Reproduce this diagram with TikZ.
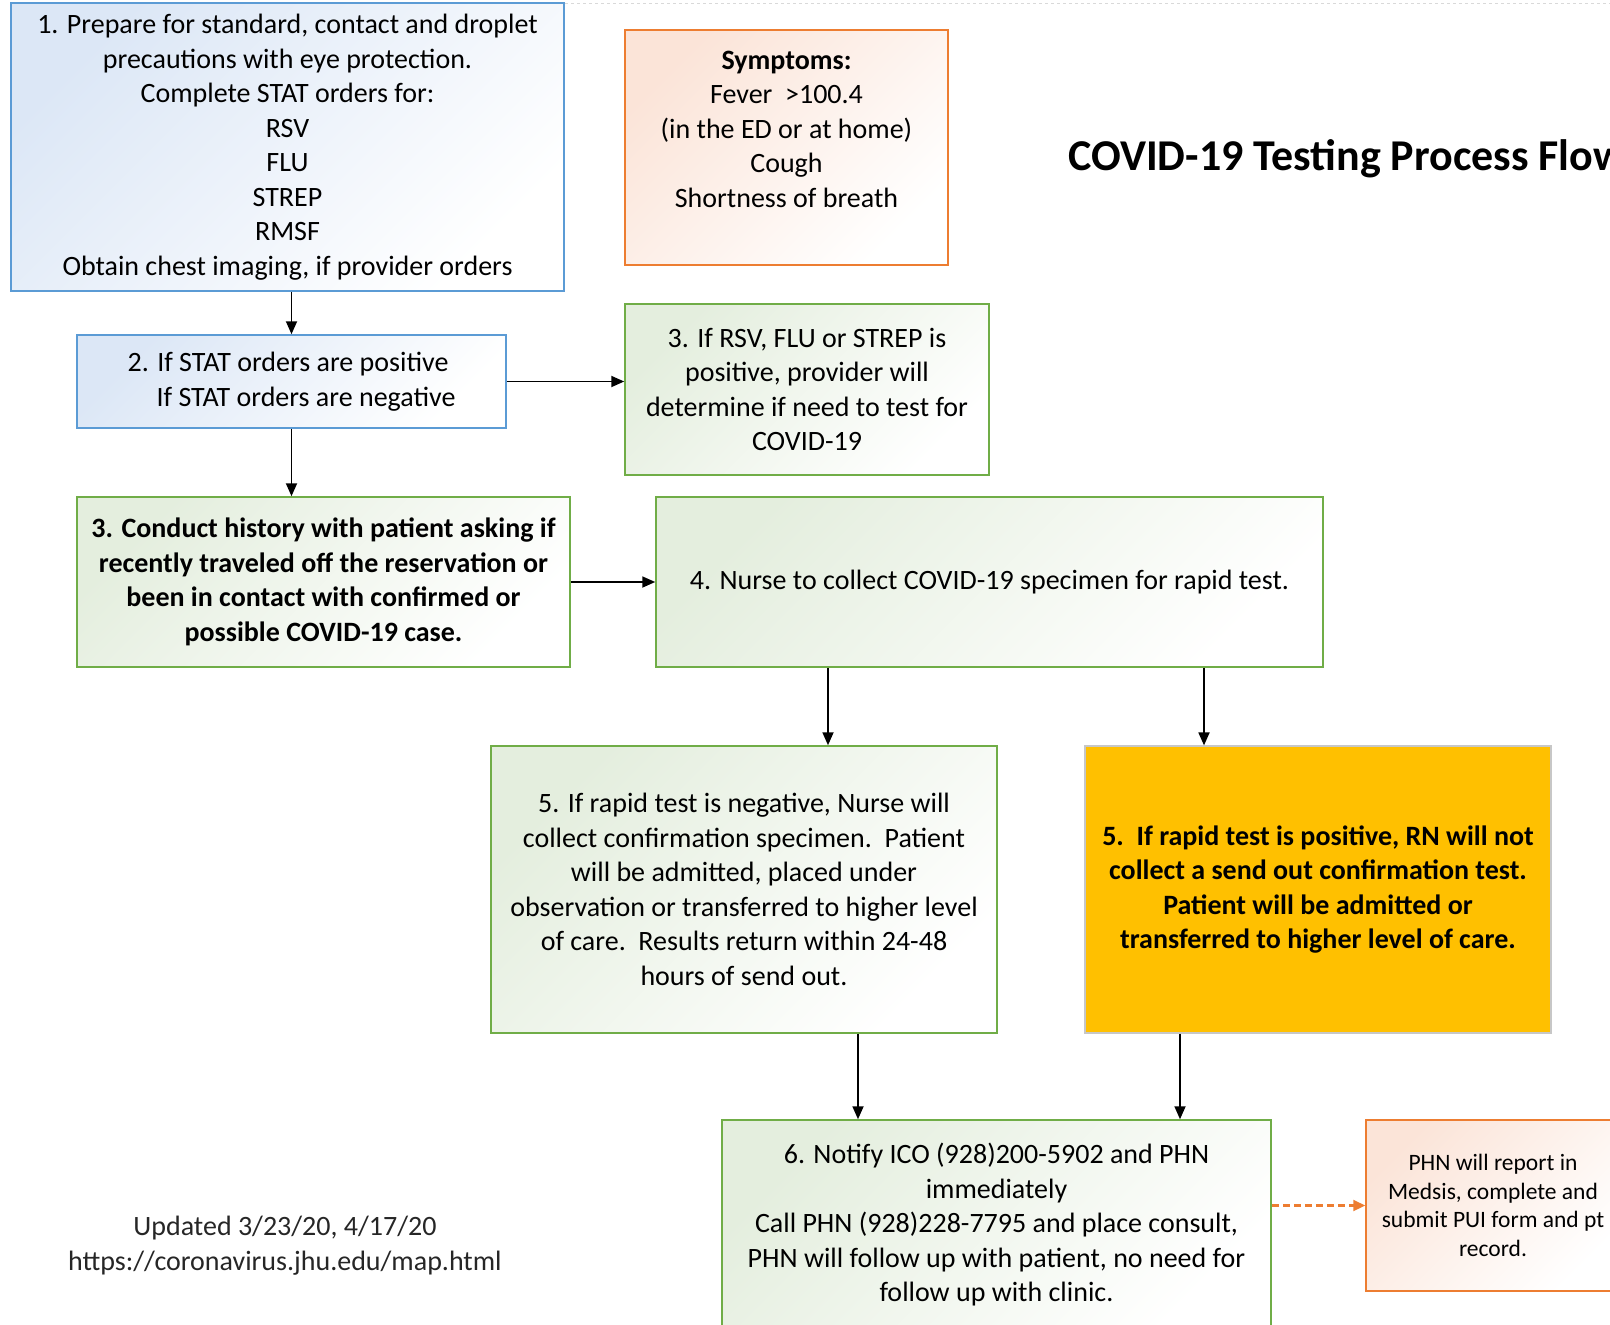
\documentclass[tikz,border=0pt]{standalone}
\usepackage{fontspec}
\setmainfont{Carlito}
\usepackage{tikz}
\usetikzlibrary{arrows.meta,positioning}
\definecolor{bluebox}{RGB}{91,155,213}
\definecolor{greenbox}{RGB}{112,173,71}
\definecolor{orangebox}{RGB}{237,125,49}
\definecolor{amber}{RGB}{255,192,0}
\definecolor{bluetint}{RGB}{220,231,246}
\definecolor{greentint}{RGB}{228,238,222}
\definecolor{orangetint}{RGB}{251,228,216}
\tikzstyle{txt}=[font=\fontsize{28}{34.5}\selectfont,align=center,inner sep=0pt]
\tikzstyle{Bbox}=[txt,shape=rectangle,draw=bluebox,line width=1.5pt,top color=bluetint,bottom color=white,shading angle=45]
\tikzstyle{Gbox}=[txt,shape=rectangle,draw=greenbox,line width=1.5pt,top color=greentint,bottom color=white,shading angle=45]
\tikzstyle{Obox}=[txt,shape=rectangle,draw=orangebox,line width=1.5pt,top color=orangetint,bottom color=white,shading angle=45]
\tikzstyle{Abox}=[txt,shape=rectangle,draw=black!22,line width=1.2pt,fill=amber,font=\fontsize{28}{34.5}\selectfont\bfseries]
\tikzstyle{flow}=[-{Triangle[length=13pt,width=11pt]},line width=1.8pt,black]
\tikzstyle{report}=[-{Triangle[length=12pt,width=11pt]},dash pattern=on 7pt off 4pt,line width=2.2pt,orangebox]

\begin{document}
\begin{tikzpicture}[x=1pt,y=-1pt]
\useasboundingbox (0,0) rectangle (1610,1325);
\clip (0,0) rectangle (1610,1325);

\draw[black!15,dashed,line width=1pt] (565,3) -- (1610,3);

\node[Bbox,minimum width=553pt,minimum height=288pt] (prep) at (287.5,147){1. Prepare for standard, contact and droplet\\ precautions with eye protection.\\ Complete STAT orders for:\\ RSV\\ FLU\\ STREP\\ RMSF\\ Obtain chest imaging, if provider orders};

\node[Obox,minimum width=323pt,minimum height=235pt] (symp) at (786.5,147.5){};
\node[txt] (symptxt) at (786.5,129){\textbf{Symptoms:}\\ Fever\ \ >100.4\\ (in the ED or at home)\\ Cough\\ Shortness of breath};

\node[txt,anchor=west,font=\fontsize{44}{52}\selectfont\bfseries] (title) at (1068,159){COVID-19 Testing Process Flow};

\node[Bbox,align=left,minimum width=429pt,minimum height=93pt] (stat) at (291.5,381.5){2. If STAT orders are positive\\ \hspace*{29pt}If STAT orders are negative};

\node[Gbox,minimum width=364pt,minimum height=171pt] (rsv) at (807,389.5){3. If RSV, FLU or STREP is\\ positive, provider will\\ determine if need to test for\\ COVID-19};

\node[Gbox,minimum width=493pt,minimum height=170pt,font=\fontsize{28}{34.5}\selectfont\bfseries] (hist) at (323.5,582){3. Conduct history with patient asking if\\ recently traveled off the reservation or\\ been in contact with confirmed or\\ possible COVID-19 case.};

\node[Gbox,minimum width=667pt,minimum height=170pt] (nurse) at (989.5,582){4. Nurse to collect COVID-19 specimen for rapid test.};

\node[Gbox,minimum width=506pt,minimum height=287pt] (neg) at (744,889.5){5. If rapid test is negative, Nurse will\\ collect confirmation specimen.\ \ Patient\\ will be admitted, placed under\\ observation or transferred to higher level\\ of care.\ \ Results return within 24-48\\ hours of send out.};

\node[Abox,minimum width=466pt,minimum height=287pt] (pos) at (1318,889.5){5.\ \ If rapid test is positive, RN will not\\ collect a send out confirmation test.\\ Patient will be admitted or\\ transferred to higher level of care.};

\node[Gbox,minimum width=549pt,minimum height=210pt] (notify) at (996.5,1225){6. Notify ICO (928)200-5902 and PHN\\ immediately\\ Call PHN (928)228-7795 and place consult,\\ PHN will follow up with patient, no need for\\ follow up with clinic.};

\node[Obox,minimum width=254pt,minimum height=171pt,font=\fontsize{23.5}{28.7}\selectfont] (phn) at (1493,1205.5){PHN will report in\\ Medsis, complete and\\ submit PUI form and pt\\ record.};

\node[txt,text=black!85] (updated) at (285,1245.5){Updated 3/23/20, 4/17/20\\ https://coronavirus.jhu.edu/map.html};

\coordinate (negin) at ([xshift=84pt]neg.north);
\coordinate (posin) at ([xshift=-114pt]pos.north);
\coordinate (negout) at ([xshift=114pt]neg.south);
\coordinate (posout) at ([xshift=-138pt]pos.south);

\path
(stat.north |- prep.south) edge [flow] (stat.north)
(stat.east) edge [flow] (stat.east -| rsv.west)
(stat.south) edge [flow] (stat.south |- hist.north)
(hist.east) edge [flow] (nurse.west)
(negin |- nurse.south) edge [flow] (negin)
(posin |- nurse.south) edge [flow] (posin)
(negout) edge [flow] (negout |- notify.north)
(posout) edge [flow] (posout |- notify.north)
(notify.east |- phn.west) edge [report] (phn.west)
;

\end{tikzpicture}
\end{document}
